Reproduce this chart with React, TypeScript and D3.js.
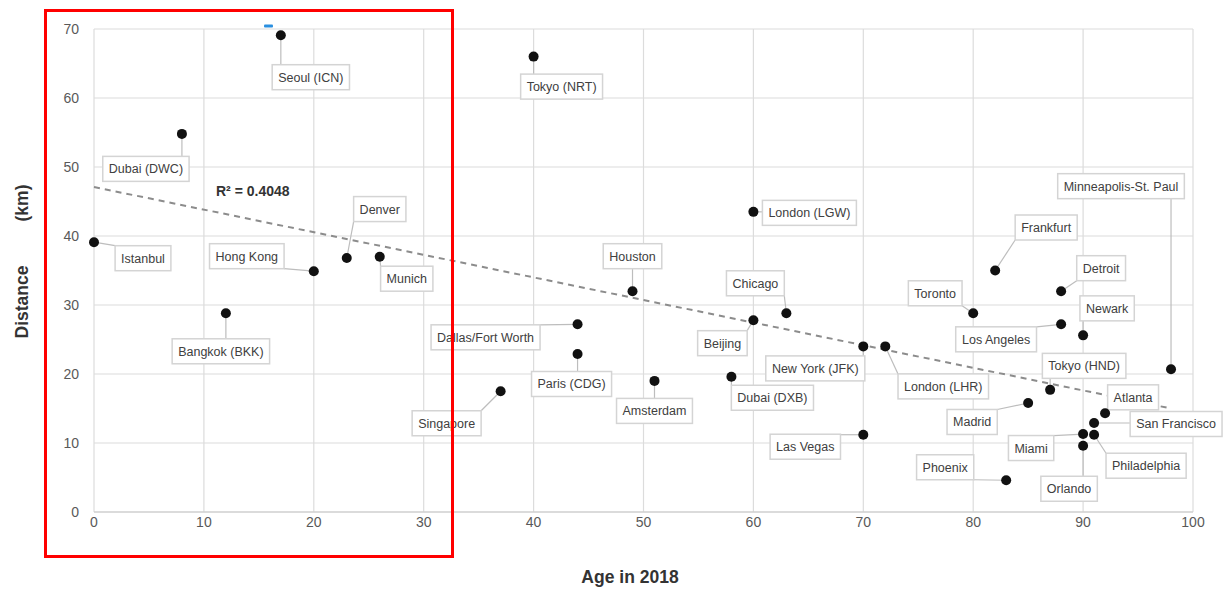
import React from "react";
import * as d3 from "d3";

const names = [
  "Istanbul", "Dubai (DWC)", "Seoul (ICN)", "Bangkok (BKK)", "Hong Kong", "Denver", "Munich",
  "Singapore", "Dallas/Fort Worth", "Paris (CDG)", "Tokyo (NRT)", "Houston", "Amsterdam",
  "London (LGW)", "Chicago", "Beijing", "Dubai (DXB)", "New York (JFK)", "London (LHR)",
  "Las Vegas", "Toronto", "Frankfurt", "Detroit", "Los Angeles", "Newark",
  "Minneapolis-St. Paul", "Tokyo (HND)", "Madrid", "Atlanta", "San Francisco",
  "Philadelphia", "Miami", "Orlando", "Phoenix",
];
const ages = [0, 8, 17, 12, 20, 23, 26, 37, 44, 44, 40, 49, 51, 60, 63, 60, 58, 70, 72, 70, 80, 82, 88, 88, 90, 98, 87, 85, 92, 91, 91, 90, 90, 83];
const distances = [39.1, 54.8, 69.1, 28.8, 34.9, 36.8, 37, 17.5, 27.2, 22.9, 66, 32, 19, 43.5, 28.8, 27.8, 19.6, 24, 24, 11.2, 28.8, 35, 32, 27.2, 25.6, 20.7, 17.7, 15.8, 14.3, 12.9, 11.2, 11.3, 9.6, 4.6];

// label placement offsets (px) relative to the point
const labelDx = [49, -36, 30, -5, -67, 33, 27, -54, -92, -6, 28, 0, 0, 56, -31, -31, 41, -48, 58, -58, -38, 51, 40, -65, 24, -50, 34, -56, 28, 82, 52, -52, -14, -61];
const labelDy = [16, 35, 42, 38, -15, -49, 22, 32, 13, 30, 30, -35, 30, 1, -30, 23, 21, 22, 40, 12, -20, -43, -23, 15, -27, -183, -24, 19, -16, 1, 31, 14, 43, -13];

const xTicks = [0, 10, 20, 30, 40, 50, 60, 70, 80, 90, 100];
const yTicks = [0, 10, 20, 30, 40, 50, 60, 70];
const trendX = [0, 98];
const trendY = [47.1, 15.0];
const r2Text = "R² = 0.4048";

const W = 1227, H = 589;
const FONT = "'Liberation Sans', Arial, sans-serif";

let ctx: CanvasRenderingContext2D | null = null;
function measure(t: string, size: number) {
  if (!ctx) ctx = document.createElement("canvas").getContext("2d");
  if (!ctx) return t.length * size * 0.5;
  ctx.font = `${size}px 'Liberation Sans', Arial, sans-serif`;
  return ctx.measureText(t).width;
}

export default function App() {
  const x = d3.scaleLinear().domain([0, 100]).range([94, 1193]);
  const y = d3.scaleLinear().domain([0, 70]).range([512, 29]);
  const LFS = 12.5;
  const bh = 25;

  return (
    <svg width={W} height={H} style={{ position: "absolute", left: 0, top: 0, background: "#fff" }}>
      <rect x={0} y={0} width={W} height={H} fill="#fff" />
      {/* grid */}
      {xTicks.map((t) => (
        <line key={"gx" + t} x1={x(t)} x2={x(t)} y1={y(70)} y2={y(0)} stroke="#dcdcdc" strokeWidth={1.2} />
      ))}
      {yTicks.map((t) => (
        <line key={"gy" + t} x1={x(0)} x2={x(100)} y1={y(t)} y2={y(t)} stroke={t === 0 ? "#cfcfcf" : "#dcdcdc"} strokeWidth={t === 0 ? 1.6 : 1.2} />
      ))}
      {xTicks.map((t) => (
        <text key={"tx" + t} x={x(t)} y={527} textAnchor="middle" fontFamily={FONT} fontSize={14} fill="#595959">{t}</text>
      ))}
      {yTicks.map((t) => (
        <text key={"ty" + t} x={79} y={y(t) + 5} textAnchor="end" fontFamily={FONT} fontSize={14} fill="#595959">{t}</text>
      ))}
      {/* trendline */}
      <line x1={x(trendX[0])} y1={y(trendY[0])} x2={x(trendX[1])} y2={y(trendY[1])} stroke="#8c8c8c" strokeWidth={2} strokeDasharray="6,5" />
      <text x={216} y={196} fontFamily={FONT} fontSize={14} fontWeight="bold" fill="#333">{r2Text}</text>
      {/* leaders and labels */}
      {names.map((n, i) => {
        const px = x(ages[i]), py = y(distances[i]);
        const cx = px + labelDx[i], cy = py + labelDy[i];
        const bw = measure(n, LFS) + 12;
        const x0 = cx - bw / 2, y0 = cy - bh / 2;
        const ex = Math.max(x0, Math.min(px, x0 + bw));
        const ey = Math.max(y0, Math.min(py, y0 + bh));
        return (
          <g key={"l" + i}>
            <line x1={px} y1={py} x2={ex} y2={ey} stroke="#bdbdbd" strokeWidth={1.2} />
            <rect x={x0} y={y0} width={bw} height={bh} fill="#fff" stroke="#d4d4d4" strokeWidth={1.5} />
            <text x={cx} y={cy + 4.5} textAnchor="middle" fontFamily={FONT} fontSize={LFS} fill="#404040">{n}</text>
          </g>
        );
      })}
      {/* points */}
      {names.map((n, i) => (
        <circle key={"p" + i} cx={x(ages[i])} cy={y(distances[i])} r={5} fill="#111" />
      ))}
      {/* axis titles */}
      <text x={630} y={583} textAnchor="middle" fontFamily={FONT} fontSize={17.5} fontWeight="bold" fill="#333">Age in 2018</text>
      <text transform="translate(28,302) rotate(-90)" textAnchor="middle" fontFamily={FONT} fontSize={17.5} fontWeight="bold" fill="#333">Distance</text>
      <text transform="translate(28,203) rotate(-90)" textAnchor="middle" fontFamily={FONT} fontSize={17.5} fontWeight="bold" fill="#333">(km)</text>
      {/* annotations */}
      <rect x={264} y={24.5} width={9} height={3} rx={1} fill="#2a8fe0" />
      <rect x={45.5} y={10.5} width={407} height={546} fill="none" stroke="#ff0000" strokeWidth={3} />
    </svg>
  );
}
